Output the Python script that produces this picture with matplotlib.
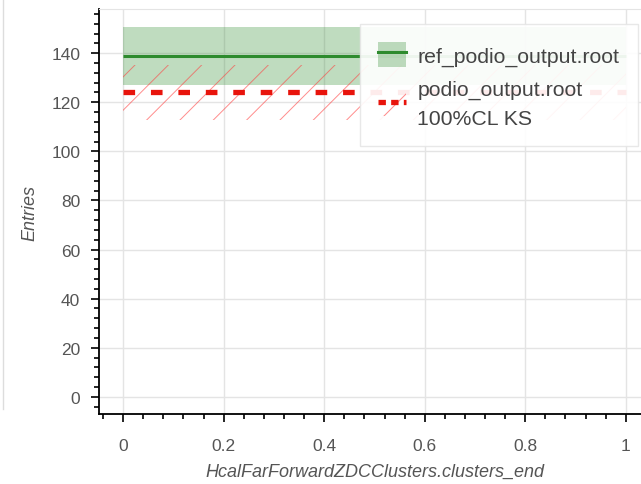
import numpy as np
import matplotlib
matplotlib.use("Agg")
import matplotlib.pyplot as plt
from matplotlib.lines import Line2D
from matplotlib.patches import Patch
from matplotlib.ticker import MultipleLocator, FuncFormatter

plt.rcParams['font.family'] = ['Liberation Sans', 'DejaVu Sans']
plt.rcParams['hatch.linewidth'] = 0.7

# histogram data (one bin)
bin_edges = [0.0, 1.0]
ref_counts = [139]
ref_err = [11.8]
new_counts = [124]
new_err = [11.1]
ref_label = "ref_podio_output.root"
new_label = "podio_output.root\n100%CL KS"
x_label = "HcalFarForwardZDCClusters.clusters_end"
y_label = "Entries"

green = "#2e8b2e"
red = "#e8140c"
hatch_col = (1, 0.25, 0.25, 0.6)
dash = (0, (2.2, 3.0))

fig = plt.figure(figsize=(6.41, 4.85), dpi=100)
ax = fig.add_axes([0.1545, 0.1443, 0.861, 0.835])

ref = np.array(ref_counts, dtype=float)
new = np.array(new_counts, dtype=float)

# reference: shaded error band + solid line
ax.stairs(ref + ref_err, bin_edges, baseline=ref - ref_err, fill=True,
          color=green, alpha=0.3, linewidth=0, zorder=2)
ax.stairs(ref, bin_edges, baseline=None, color=green, linewidth=2.2, zorder=3)

# new: hatched error band + dashed line
ax.stairs(new + new_err, bin_edges, baseline=new - new_err, fill=True,
          facecolor='none', edgecolor=hatch_col, hatch='/',
          linewidth=0, zorder=2)
ax.stairs(new, bin_edges, baseline=None, color=red, linewidth=3.8,
          linestyle=dash, zorder=4)

ax.set_xlim(-0.048, 1.05)
ax.set_ylim(-7, 158)

ax.xaxis.set_major_locator(MultipleLocator(0.2))
ax.xaxis.set_minor_locator(MultipleLocator(0.04))
ax.yaxis.set_major_locator(MultipleLocator(20))
ax.yaxis.set_minor_locator(MultipleLocator(4))
ax.xaxis.set_major_formatter(FuncFormatter(lambda v, p: f"{v:g}"))

ax.grid(True, which='major', color='#e4e4e4', linewidth=1, zorder=0)
ax.set_axisbelow(True)
ax.tick_params(which='major', direction='out', length=6, width=1.2,
               labelsize=12.5, labelcolor='#555555')
ax.tick_params(axis='y', which='major', pad=7.5)
ax.tick_params(axis='x', which='major', pad=11)
ax.tick_params(which='minor', direction='out', length=3.5, width=1.2)

for s in ['left', 'bottom']:
    ax.spines[s].set_linewidth(1.3)
ax.spines['top'].set_color('#e4e4e4')
ax.spines['right'].set_visible(False)

ax.set_xlabel(x_label, fontsize=13, style='italic', color='#555555', labelpad=7)
ax.set_ylabel(y_label, fontsize=13, style='italic', color='#555555', labelpad=9)

handles = [
    (Patch(facecolor=green, alpha=0.3, linewidth=0),
     Line2D([], [], color=green, linewidth=2.2)),
    (Patch(facecolor='none', edgecolor=hatch_col, hatch='/', linewidth=0),
     Line2D([], [], color=red, linewidth=3.8, linestyle=(0, (1.4, 1.0)))),
]
leg = ax.legend(handles, [ref_label, new_label], loc='upper left',
                bbox_to_anchor=(0.473, 0.963), borderaxespad=0, fontsize=15.3,
                fancybox=False, framealpha=0.92, edgecolor='#e6e6e6',
                handlelength=1.3, handleheight=1.4, handletextpad=0.55,
                borderpad=0.85, labelspacing=0.6, labelcolor='#444444')
for t in leg.get_texts():
    t.set_linespacing(1.7)
leg.set_zorder(5)

# faint edge of a neighbouring panel on the far left
fig.add_artist(Line2D([0.004, 0.004], [0.155, 1.0], color='#dddddd', linewidth=1))

fig.savefig("out.png", dpi=100)
